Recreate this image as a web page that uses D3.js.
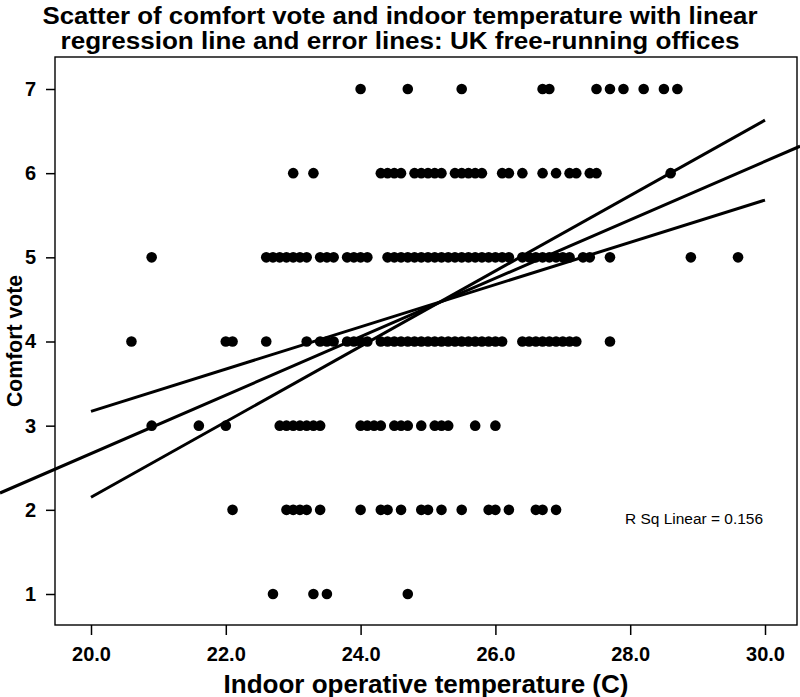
<!DOCTYPE html>
<html><head><meta charset="utf-8">
<script src="https://cdn.jsdelivr.net/npm/d3@7"></script>
<style>
html,body{margin:0;padding:0;background:#fff;}
svg{display:block;}
</style></head>
<body>
<script>
// ---- data ----
const titleLines = ["Scatter of comfort vote and indoor temperature with linear",
                    "regression line and error lines: UK free-running offices"];
const xTitle = "Indoor operative temperature (C)";
const yTitle = "Comfort vote";
const xTicks = [20, 22, 24, 26, 28, 30];
const yTicks = [1, 2, 3, 4, 5, 6, 7];
const rsqLabel = "R Sq Linear = 0.156";

const vote7 = [24.0, 24.7, 25.5, 26.7, 26.8, 27.5, 27.7, 27.9, 28.2, 28.5, 28.7];
const vote6 = [23.0, 23.3, 24.3, 24.4, 24.5, 24.6, 24.8, 24.9, 25.0, 25.1, 25.2, 25.4, 25.5,
               25.6, 25.7, 25.8, 26.1, 26.2, 26.4, 26.7, 26.9, 27.1, 27.2, 27.4, 27.5, 28.6];
const vote5 = [20.9, 22.6, 22.7, 22.8, 22.9, 23.0, 23.1, 23.2, 23.4, 23.5, 23.6, 23.8, 23.9,
               24.0, 24.1, 24.4, 24.5, 24.6, 24.7, 24.8, 24.9, 25.0, 25.1, 25.2, 25.3, 25.4,
               25.5, 25.6, 25.7, 25.8, 25.9, 26.0, 26.1, 26.2, 26.4, 26.5, 26.6, 26.7, 26.8,
               26.9, 27.0, 27.1, 27.3, 27.4, 27.7, 28.9, 29.6];
const vote4 = [20.6, 22.0, 22.1, 22.6, 23.2, 23.4, 23.5, 23.6, 23.8, 23.9, 24.0, 24.1, 24.3,
               24.4, 24.5, 24.6, 24.7, 24.8, 24.9, 25.0, 25.1, 25.2, 25.3, 25.4, 25.5, 25.6,
               25.7, 25.8, 25.9, 26.0, 26.1, 26.4, 26.5, 26.6, 26.7, 26.8, 26.9, 27.0, 27.1,
               27.2, 27.7];
const vote3 = [20.9, 21.6, 22.0, 22.8, 22.9, 23.0, 23.1, 23.2, 23.3, 23.4, 24.0, 24.1, 24.2,
               24.3, 24.5, 24.6, 24.7, 24.9, 25.1, 25.2, 25.3, 25.7, 26.0];
const vote2 = [22.1, 22.9, 23.0, 23.1, 23.2, 23.4, 24.0, 24.3, 24.4, 24.6, 24.9, 25.0, 25.2,
               25.5, 25.9, 26.0, 26.2, 26.6, 26.7, 26.9];
const vote1 = [22.7, 23.3, 23.5, 24.7];

// fit line and error lines (end points)
const fitTemps   = [18.65, 30.52];
const fitVotes   = [2.20, 6.32];
const errTemps   = [20, 30];
const errUpVotes = [3.17, 5.68];
const errLoVotes = [2.15, 6.63];

// ---- chart ----
const W = 800, H = 697;
const frame = {left: 55, right: 797, top: 57, bottom: 625};
const FONT = "'Liberation Sans Narrow', 'Liberation Sans', Arial, sans-serif";

const svg = d3.select("body").append("svg").attr("width", W).attr("height", H);

const x = d3.scaleLinear().domain([20, 30]).range([91, 765]);
const y = d3.scaleLinear().domain([1, 7]).range([594, 89]);

const points = [];
[[1, vote1], [2, vote2], [3, vote3], [4, vote4], [5, vote5], [6, vote6], [7, vote7]]
  .forEach(([v, arr]) => arr.forEach(t => points.push({t, v})));

// frame
svg.append("rect")
  .attr("x", frame.left).attr("y", frame.top)
  .attr("width", frame.right - frame.left).attr("height", frame.bottom - frame.top)
  .attr("fill", "none").attr("stroke", "#000").attr("stroke-width", 1.4);

// points
svg.append("g").selectAll("circle").data(points).join("circle")
  .attr("cx", d => x(d.t)).attr("cy", d => y(d.v)).attr("r", 5.3).attr("fill", "#000");

// lines
const line = d3.line().x(d => x(d[0])).y(d => y(d[1]));
const lg = svg.append("g").attr("fill", "none").attr("stroke", "#000").attr("stroke-width", 3);
lg.append("path").attr("d", line(d3.zip(fitTemps, fitVotes)));
lg.append("path").attr("d", line(d3.zip(errTemps, errUpVotes)));
lg.append("path").attr("d", line(d3.zip(errTemps, errLoVotes)));

// axes
const xAxis = svg.append("g").attr("transform", `translate(0,${frame.bottom})`)
  .call(d3.axisBottom(x).tickValues(xTicks).tickFormat(d3.format(".1f")).tickSize(10).tickPadding(12));
const yAxis = svg.append("g").attr("transform", `translate(${frame.left},0)`)
  .call(d3.axisLeft(y).tickValues(yTicks).tickFormat(d3.format("d")).tickSize(9).tickPadding(10));
[xAxis, yAxis].forEach(a => {
  a.select(".domain").remove();
  a.selectAll(".tick line").attr("stroke", "#000").attr("stroke-width", 1.5);
  a.selectAll(".tick text").attr("fill", "#000")
    .style("font-family", FONT).style("font-weight", "bold").style("font-size", "20px");
});
xAxis.selectAll(".tick text").attr("dy", "0.71em");

// titles
const tl = [{t: titleLines[0], y: 24, len: 715}, {t: titleLines[1], y: 49, len: 679}];
svg.append("g").selectAll("text").data(tl).join("text")
  .attr("x", W / 2).attr("y", d => d.y).attr("text-anchor", "middle")
  .attr("textLength", d => d.len).attr("lengthAdjust", "spacingAndGlyphs")
  .style("font-family", FONT).style("font-weight", "bold").style("font-size", "23px")
  .text(d => d.t);

svg.append("text")
  .attr("x", (frame.left + frame.right) / 2).attr("y", 693).attr("text-anchor", "middle")
  .attr("textLength", 405).attr("lengthAdjust", "spacingAndGlyphs")
  .style("font-family", FONT).style("font-weight", "bold").style("font-size", "25px")
  .text(xTitle);

svg.append("text")
  .attr("transform", `translate(22,${(frame.top + frame.bottom) / 2}) rotate(-90)`)
  .attr("text-anchor", "middle")
  .attr("textLength", 132).attr("lengthAdjust", "spacingAndGlyphs")
  .style("font-family", FONT).style("font-weight", "bold").style("font-size", "22px")
  .text(yTitle);

svg.append("text")
  .attr("x", 694).attr("y", 524).attr("text-anchor", "middle")
  .attr("textLength", 138).attr("lengthAdjust", "spacingAndGlyphs")
  .style("font-family", "'Liberation Sans', Arial, sans-serif").style("font-size", "14px")
  .text(rsqLabel);
</script>
</body></html>
